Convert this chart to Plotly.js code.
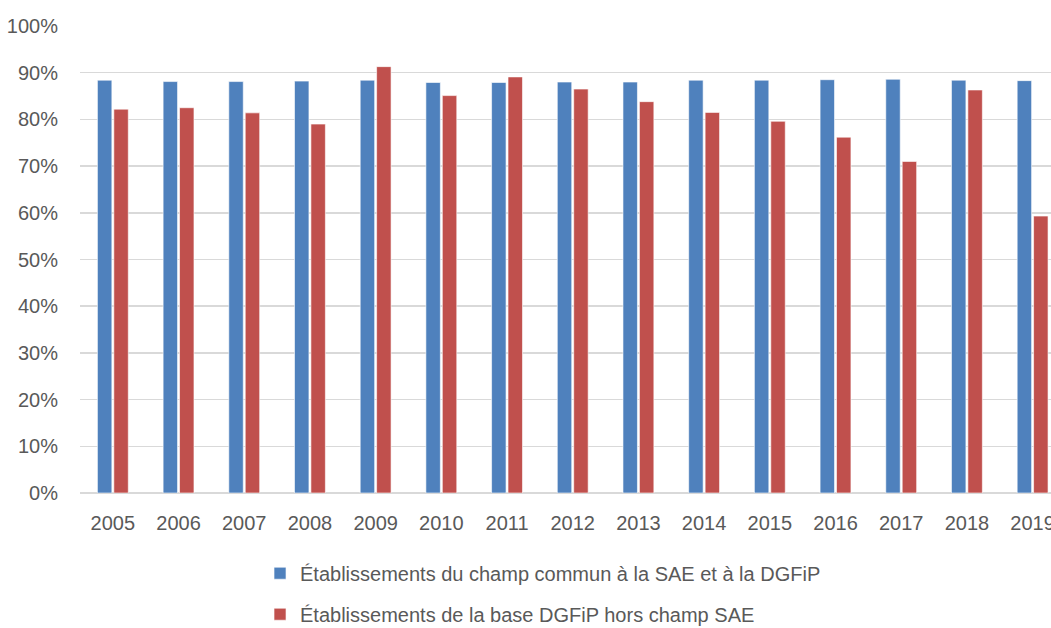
<!DOCTYPE html>
<html><head><meta charset="utf-8">
<script src="https://cdn.plot.ly/plotly-3.0.1.min.js"></script>
<style>html,body{margin:0;padding:0;background:#fff;}#chart{width:1051px;height:628px;}</style>
</head><body><div id="chart"></div>
<script>
const years = ['2005','2006','2007','2008','2009','2010','2011','2012','2013','2014','2015','2016','2017','2018','2019'];
const communValues = [0.884,0.881,0.881,0.882,0.884,0.879,0.879,0.880,0.880,0.884,0.884,0.885,0.886,0.884,0.883];
const horsChampValues = [0.822,0.825,0.814,0.790,0.913,0.851,0.891,0.865,0.838,0.815,0.796,0.762,0.710,0.863,0.593];
const seriesNames = ['Établissements du champ commun à la SAE et à la DGFiP','Établissements de la base DGFiP hors champ SAE'];
const FONT = '"Liberation Sans", Arial, sans-serif';
const traces = [
  {type:'bar', x:years, y:communValues, name:seriesNames[0], legendgroup:'a',
   marker:{color:'#4F81BD', line:{color:'rgba(255,255,255,0.6)', width:1}}, hoverinfo:'skip'},
  {type:'bar', x:years, y:horsChampValues, name:seriesNames[1], legendgroup:'b',
   marker:{color:'#C0504D', line:{color:'rgba(255,255,255,0.6)', width:1}}, hoverinfo:'skip'}
];
const layout = {
  width:1051, height:628,
  margin:{l:80, r:0, t:26, b:135, autoexpand:false},
  paper_bgcolor:'#fff', plot_bgcolor:'#fff',
  font:{family:FONT, size:20, color:'#595959'},
  barmode:'group', bargap:0.5, bargroupgap:0.12,
  xaxis:{type:'category', range:[-0.5,14.28], showgrid:false, zeroline:false, showline:false,
         ticks:'', tickfont:{family:FONT, size:20, color:'#595959'}, ticklabelstandoff:16},
  yaxis:{range:[0,1], dtick:0.1, tickformat:'.0%', showgrid:true, gridcolor:'#D9D9D9', gridwidth:1.5,
         zeroline:true, zerolinecolor:'#D9D9D9', zerolinewidth:1.5, showline:false, ticks:'',
         tickfont:{family:FONT, size:20, color:'#595959'}, ticklabelstandoff:21},
  showlegend:true,
  legend:{orientation:'v', x:0.1854, xanchor:'left', y:-0.13, yanchor:'top', traceorder:'grouped',
          tracegroupgap:12, font:{family:FONT, size:20, color:'#595959'}, bgcolor:'rgba(0,0,0,0)'}
};
Plotly.newPlot('chart', traces, layout, {staticPlot:true, displayModeBar:false});
</script></body></html>
